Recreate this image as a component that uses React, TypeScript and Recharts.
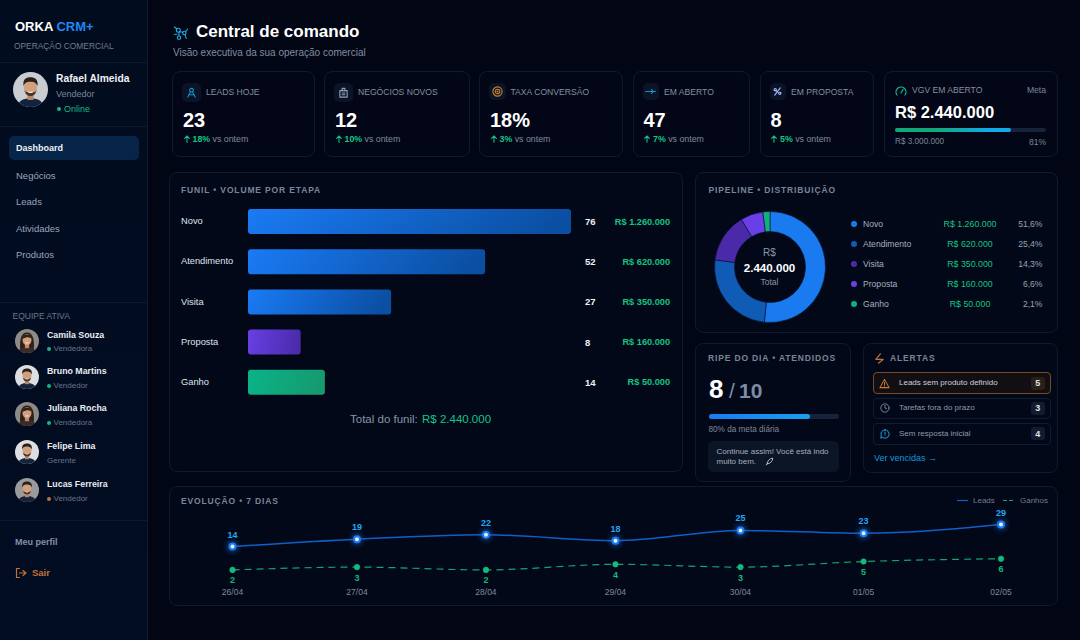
import React from "react";
import {
  BarChart,
  Bar,
  Cell,
  XAxis,
  YAxis,
  LabelList,
  PieChart,
  Pie,
  LineChart,
  Line,
} from "recharts";

const etapas = ["Novo", "Atendimento", "Visita", "Proposta", "Ganho"];
const quantidades = [76, 52, 27, 8, 14];
// comprimento das barras em % da maior (não é proporcional à quantidade)
const larguraFunil = [100, 73.4, 44.3, 16.3, 23.8];
const valoresEtapa = [1260000, 620000, 350000, 160000, 50000];
const valoresTexto = ["R$ 1.260.000", "R$ 620.000", "R$ 350.000", "R$ 160.000", "R$ 50.000"];
const percentuais = ["51,6%", "25,4%", "14,3%", "6,6%", "2,1%"];

const datas = ["26/04", "27/04", "28/04", "29/04", "30/04", "01/05", "02/05"];
// posição de cada dia no eixo, o espaçamento da imagem não é regular
const diasX = [0, 0.972, 1.979, 2.99, 3.966, 4.927, 6];
const leads = [14, 19, 22, 18, 25, 23, 29];
const ganhos = [2, 3, 2, 4, 3, 5, 6];

const kpis = [
  { x: 172, w: 143, lx: 34, label: "LEADS HOJE", value: "23", delta: "18%", icon: "people" },
  { x: 324, w: 146, lx: 34, label: "NEGÓCIOS NOVOS", value: "12", delta: "10%", icon: "building" },
  { x: 479, w: 144, lx: 31.5, label: "TAXA CONVERSÃO", value: "18%", delta: "3%", icon: "target" },
  { x: 632.5, w: 117, lx: 31.5, label: "EM ABERTO", value: "47", delta: "7%", icon: "arrow" },
  { x: 759.5, w: 114, lx: 31.5, label: "EM PROPOSTA", value: "8", delta: "5%", icon: "spark" },
];

const menu = [
  { label: "Negócios", y: 176 },
  { label: "Leads", y: 202 },
  { label: "Atividades", y: 229 },
  { label: "Produtos", y: 255 },
];

const equipe = [
  { nome: "Camila Souza", papel: "Vendedora", dot: "#12b981", y: 340.5, f: true },
  { nome: "Bruno Martins", papel: "Vendedor", dot: "#12b981", y: 377, f: false },
  { nome: "Juliana Rocha", papel: "Vendedora", dot: "#12b981", y: 414, f: true },
  { nome: "Felipe Lima", papel: "Gerente", dot: "", y: 452, f: false },
  { nome: "Lucas Ferreira", papel: "Vendedor", dot: "#c2713a", y: 490, f: false },
];

const alertas = [
  { label: "Leads sem produto definido", n: 5, y: 372, h: 22 },
  { label: "Tarefas fora do prazo", n: 3, y: 397.5, h: 21.5 },
  { label: "Sem resposta inicial", n: 4, y: 422.5, h: 22 },
];

const coresPie = ["#1a7bf0", "#0f5bb5", "#4a2aa8", "#6a3fe8", "#10b07f"];
const gradFunil = ["gBlue", "gBlue", "gBlue", "gPurple", "gGreen"];
const GREEN = "#13c584";
const FONT = "'Liberation Sans', Arial, sans-serif";

const funilData = etapas.map((etapa, i) => ({ etapa, largura: larguraFunil[i] }));
const pieData = etapas.map((etapa, i) => ({ etapa, valor: valoresEtapa[i] }));
const evolucaoData = datas.map((data, i) => ({ data, dia: diasX[i], leads: leads[i], ganhos: ganhos[i] }));

function T({ x, y, size = 9.5, color = "#fff", bold = false, anchor = "start", ls = 0, children }: any) {
  const tx = anchor === "end" ? "-100%" : anchor === "middle" ? "-50%" : "0";
  return (
    <div
      style={{
        position: "absolute",
        left: x,
        top: y,
        transform: `translate(${tx}, -50%)`,
        fontSize: size,
        color,
        fontWeight: bold ? 700 : 400,
        letterSpacing: ls,
        whiteSpace: "nowrap",
        lineHeight: 1.2,
      }}
    >
      {children}
    </div>
  );
}

function Box({ x, y, w, h, r = 8, bg = "#020818", border = "#0e1b2f" }: any) {
  return (
    <div
      style={{
        position: "absolute",
        left: x,
        top: y,
        width: w,
        height: h,
        borderRadius: r,
        background: bg,
        border: border ? `1px solid ${border}` : "none",
        boxSizing: "border-box",
      }}
    />
  );
}

function Avatar({ cx, cy, r, f, bg = "#c9ccd1" }: any) {
  return (
    <svg style={{ position: "absolute", left: cx - r, top: cy - r }} width={r * 2} height={r * 2} viewBox="0 0 40 40">
      <defs>
        <clipPath id={`av${cx}${cy}`}>
          <circle cx="20" cy="20" r="20" />
        </clipPath>
      </defs>
      <g clipPath={`url(#av${cx}${cy})`}>
        <rect width="40" height="40" fill={f ? "#8d8a88" : bg} />
        {f && <path d="M9 38 C7 18 10 6 20 6 C30 6 33 18 31 38 Z" fill="#2e211c" />}
        <path d="M5 40 C6 32 13 30 20 30 C27 30 34 32 35 40 Z" fill={f ? "#3a2b2b" : "#14233c"} />
        <rect x="16.5" y="24" width="7" height="8" fill="#b98768" />
        <ellipse cx="20" cy="18" rx="7.5" ry="9.5" fill="#d3a07e" />
        {!f && <path d="M12 16 C11 7 16 6 20 6 C25 6 29 8 28 16 C26 11 22 11 20 11 C17 11 14 11 12 16 Z" fill="#2b201b" />}
        {!f && <path d="M13 20 C14 30 26 30 27 20 C26 24 23 23 20 23 C17 23 14 24 13 20 Z" fill="#4a3428" />}
        {f && <path d="M12 17 C13 10 17 9 20 9 C24 9 27 10 28 17 C25 13 20 12 12 17 Z" fill="#2e211c" />}
        <path d="M16.5 22.5 C18 24.5 22 24.5 23.5 22.5 Z" fill="#f4efe9" />
      </g>
    </svg>
  );
}

function Ico({ x, y, size = 12, color = "#1aa5e0", sw = 1.2, children }: any) {
  return (
    <svg
      style={{ position: "absolute", left: x - size / 2, top: y - size / 2 }}
      width={size}
      height={size}
      viewBox="0 0 24 24"
      fill="none"
      stroke={color}
      strokeWidth={sw * 2}
      strokeLinecap="round"
      strokeLinejoin="round"
    >
      {children}
    </svg>
  );
}

function KpiIcon({ kind, x, y }: any) {
  if (kind === "people")
    return (
      <Ico x={x} y={y} size={11} color="#1592c8">
        <circle cx="12" cy="7" r="4" />
        <path d="M4 22 L9 12 M20 22 L15 12 M7 17 H17" />
      </Ico>
    );
  if (kind === "building")
    return (
      <Ico x={x} y={y} size={11} color="#8fa0b8">
        <rect x="4" y="8" width="16" height="14" />
        <path d="M9 8 V3 H15 V8 M9 13 H15 M9 17 H15" />
      </Ico>
    );
  if (kind === "target")
    return (
      <Ico x={x} y={y} size={11} color="#c98032">
        <circle cx="12" cy="12" r="10" />
        <circle cx="12" cy="12" r="5" />
        <circle cx="12" cy="12" r="1" />
      </Ico>
    );
  if (kind === "arrow")
    return (
      <Ico x={x} y={y} size={11} color="#1592c8">
        <path d="M1 12 H23 M14 8 L18 12 L14 16" />
      </Ico>
    );
  return (
    <Ico x={x} y={y} size={11} color="#a9b4ff">
      <path d="M6 20 L18 4 M5 9 L19 15" />
      <circle cx="7" cy="8" r="2.5" />
      <circle cx="17" cy="16" r="2.5" />
    </Ico>
  );
}

function CardTitle({ x, y, children }: any) {
  return (
    <T x={x} y={y} size={8.5} bold color="#7a8697" ls={0.85}>
      {children}
    </T>
  );
}

function funilLabel(props: any) {
  const { y, height, index } = props;
  const cy = y + height / 2;
  return (
    <g fontFamily={FONT} fontWeight={700} dominantBaseline="central">
      <text x={404} y={cy} fill="#eef1f5" fontSize={9.5} dominantBaseline="central">
        {quantidades[index]}
      </text>
      <text x={489} y={cy} fill={GREEN} fontSize={9.2} textAnchor="end" dominantBaseline="central">
        {valoresTexto[index]}
      </text>
    </g>
  );
}

function etapaTick(props: any) {
  return (
    <text x={0} y={props.y} fill="#dfe4ec" fontSize={9.3} fontFamily={FONT} dominantBaseline="central">
      {props.payload.value}
    </text>
  );
}

function FunilChart() {
  return (
    <div style={{ position: "absolute", left: 181, top: 201 }}>
      <BarChart
        width={489}
        height={201}
        data={funilData}
        layout="vertical"
        margin={{ top: 0, right: 99, bottom: 0, left: 0 }}
      >
        <defs>
          <linearGradient id="gBlue" x1="0" y1="0" x2="1" y2="0.1">
            <stop offset="0%" stopColor="#1a7bf5" />
            <stop offset="100%" stopColor="#0b4fa3" />
          </linearGradient>
          <linearGradient id="gPurple" x1="0" y1="0" x2="1" y2="0.1">
            <stop offset="0%" stopColor="#6a3fe6" />
            <stop offset="100%" stopColor="#4a2cab" />
          </linearGradient>
          <linearGradient id="gGreen" x1="0" y1="0" x2="1" y2="0.1">
            <stop offset="0%" stopColor="#0bb389" />
            <stop offset="100%" stopColor="#169a6e" />
          </linearGradient>
        </defs>
        <XAxis type="number" domain={[0, 100]} hide />
        <YAxis
          type="category"
          dataKey="etapa"
          width={67}
          axisLine={false}
          tickLine={false}
          tick={etapaTick}
          interval={0}
        />
        <Bar dataKey="largura" barSize={25} radius={3} isAnimationActive={false}>
          {funilData.map((d, i) => (
            <Cell key={d.etapa} fill={`url(#${gradFunil[i]})`} />
          ))}
          <LabelList content={funilLabel} />
        </Bar>
      </BarChart>
    </div>
  );
}

function PipelineChart() {
  return (
    <div style={{ position: "absolute", left: 699.5, top: 197 }}>
      <PieChart width={140} height={140} margin={{ top: 0, right: 0, bottom: 0, left: 0 }}>
        <Pie
          data={pieData}
          dataKey="valor"
          nameKey="etapa"
          cx={70}
          cy={70}
          innerRadius={35.5}
          outerRadius={55.5}
          startAngle={90}
          endAngle={-270}
          stroke="#06122a"
          strokeWidth={0.6}
          isAnimationActive={false}
        >
          {pieData.map((d, i) => (
            <Cell key={d.etapa} fill={coresPie[i]} />
          ))}
        </Pie>
      </PieChart>
    </div>
  );
}

function EvolucaoChart() {
  return (
    <div style={{ position: "absolute", left: 170, top: 490 }}>
      <LineChart
        width={890}
        height={112}
        data={evolucaoData}
        margin={{ top: 20, right: 59, bottom: 0, left: 62.5 }}
      >
        <XAxis
          type="number"
          dataKey="dia"
          domain={[0, 6]}
          ticks={diasX}
          interval={0}
          height={22}
          axisLine={false}
          tickLine={false}
          tickMargin={3}
          tick={{ fontSize: 8.5, fill: "#7e8a9a", fontFamily: FONT }}
          tickFormatter={(v: number) => datas[diasX.indexOf(v)]}
        />
        <YAxis yAxisId="leads" hide domain={[-8.8, 38.9]} />
        <YAxis yAxisId="ganhos" hide domain={[-1.6, 23.4]} />
        <Line
          yAxisId="ganhos"
          type="monotone"
          dataKey="ganhos"
          stroke="#11a66f"
          strokeWidth={1.2}
          strokeDasharray="7 5"
          dot={{ r: 2.8, fill: "#12bc80", stroke: "#12bc80", strokeWidth: 0.5, strokeDasharray: "" }}
          isAnimationActive={false}
        >
          <LabelList dataKey="ganhos" position="bottom" offset={7} fill="#13b97c" fontSize={9} fontWeight={700} fontFamily={FONT} />
        </Line>
        <Line
          yAxisId="leads"
          type="monotone"
          dataKey="leads"
          stroke="#0f5fc8"
          strokeWidth={1.5}
          dot={{
            r: 3,
            fill: "#e8eef8",
            stroke: "#1a7bf5",
            strokeWidth: 2,
            style: { filter: "drop-shadow(0 0 3px #1a7bf5)" },
          }}
          isAnimationActive={false}
        >
          <LabelList dataKey="leads" position="top" offset={9} fill="#1fa8f5" fontSize={9} fontWeight={700} fontFamily={FONT} />
        </Line>
      </LineChart>
    </div>
  );
}

function Sidebar() {
  return (
    <>
      <div
        style={{
          position: "absolute",
          left: 0,
          top: 0,
          width: 147,
          height: 640,
          background: "linear-gradient(180deg, #020c1f 0%, #020d22 100%)",
          borderRight: "1px solid #0c1a2e",
        }}
      />
      {[62, 125.5, 302, 519.5].map((y) => (
        <div key={y} style={{ position: "absolute", left: 0, top: y, width: 147, height: 1, background: "#0c1a2e" }} />
      ))}
      <T x={15} y={27} size={13} bold>
        ORKA <span style={{ color: "#1e88f5" }}>CRM+</span>
      </T>
      <T x={14} y={45.5} size={8.4} color="#6f7c90">
        OPERAÇÃO COMERCIAL
      </T>
      <Avatar cx={30.5} cy={89} r={17.5} f={false} />
      <T x={56} y={79} size={10.3} bold color="#eef1f5">
        Rafael Almeida
      </T>
      <T x={56} y={94} size={9} color="#7a8596">
        Vendedor
      </T>
      <div style={{ position: "absolute", left: 56.5, top: 106.5, width: 4, height: 4, borderRadius: 2, background: "#12b981" }} />
      <T x={64} y={108.5} size={9} color="#12b981">
        Online
      </T>
      <Box x={9} y={136} w={130} h={24} r={5} bg="#072449" border="" />
      <T x={16} y={148} size={9} bold color="#eef1f5">
        Dashboard
      </T>
      {menu.map((m) => (
        <T key={m.label} x={16} y={m.y} size={9.5} color="#98a5b8">
          {m.label}
        </T>
      ))}
      <T x={12.5} y={316} size={8.5} color="#6a778c">
        EQUIPE ATIVA
      </T>
      {equipe.map((p) => (
        <React.Fragment key={p.nome}>
          <Avatar cx={27} cy={p.y} r={12} f={p.f} bg={p.nome === "Lucas Ferreira" ? "#9a9a9c" : "#dcdee2"} />
          <T x={47} y={p.y - 6} size={8.8} bold color="#e8ecf2">
            {p.nome}
          </T>
          {p.dot && (
            <div style={{ position: "absolute", left: 46.5, top: p.y + 6.5, width: 4, height: 4, borderRadius: 2, background: p.dot }} />
          )}
          <T x={p.dot ? 53.5 : 47} y={p.y + 8.5} size={8} color="#66738a">
            {p.papel}
          </T>
        </React.Fragment>
      ))}
      <T x={15} y={542} size={9} bold color="#8290a6">
        Meu perfil
      </T>
      <Ico x={21} y={573} size={12} color="#c2713a" sw={1.2}>
        <path d="M9 3 H3 V21 H9 M9 12 H22 M16 7 L22 12 L16 17" />
      </Ico>
      <T x={32} y={573} size={9.5} bold color="#c2713a">
        Sair
      </T>
    </>
  );
}

function Kpis() {
  return (
    <>
      {kpis.map((k) => (
        <React.Fragment key={k.label}>
          <Box x={k.x} y={71} w={k.w} h={86} bg="#020616" />
          <Box x={k.x + 10} y={83} w={k.lx - 15} h={k.lx - 15} r={5} bg="#0a1426" border="" />
          <KpiIcon kind={k.icon} x={k.x + 10 + (k.lx - 15) / 2} y={83 + (k.lx - 15) / 2} />
          <T x={k.x + k.lx} y={91.5} size={8.6} color="#848f9f">
            {k.label}
          </T>
          <T x={k.x + 11} y={119.5} size={20} bold>
            {k.value}
          </T>
          <Ico x={k.x + 14.5} y={139} size={8} color={GREEN} sw={1.6}>
            <path d="M12 22 V3 M5 10 L12 3 L19 10" />
          </Ico>
          <T x={k.x + 20.5} y={139} size={8.8}>
            <span style={{ color: GREEN, fontWeight: 700 }}>{k.delta}</span>
            <span style={{ color: "#808c9c" }}> vs ontem</span>
          </T>
        </React.Fragment>
      ))}
      <Box x={883.5} y={71} w={174.5} h={86} bg="#020616" />
      <Ico x={901} y={90.5} size={12} color="#13b988">
        <path d="M4 20 A10 10 0 1 1 20 20 M12 16 L16 9" />
      </Ico>
      <T x={912} y={90} size={8.6} color="#848f9f">
        VGV EM ABERTO
      </T>
      <T x={1046} y={90} size={8.6} color="#7a8798" anchor="end">
        Meta
      </T>
      <T x={895} y={112.5} size={16.5} bold>
        R$ 2.440.000
      </T>
      <div style={{ position: "absolute", left: 895, top: 127.7, width: 151, height: 4.6, borderRadius: 3, background: "#16233a" }} />
      <div
        style={{
          position: "absolute",
          left: 895,
          top: 127.7,
          width: 116,
          height: 4.6,
          borderRadius: 3,
          background: "linear-gradient(90deg, #10a878 0%, #10a878 35%, #12a9e8 80%)",
        }}
      />
      <T x={895} y={142} size={8.2} color="#7a8798">
        R$ 3.000.000
      </T>
      <T x={1046} y={142} size={8.5} color="#7a8798" anchor="end">
        81%
      </T>
    </>
  );
}

function RipeAlertas() {
  return (
    <>
      <Box x={695} y={343} w={156} h={139} />
      <CardTitle x={708} y={358}>RIPE DO DIA • ATENDIDOS</CardTitle>
      <T x={709} y={390} size={26} bold>
        8
      </T>
      <T x={729} y={391} size={21} color="#7d8ca6">
        /
      </T>
      <T x={739} y={391} size={21} bold color="#7d8ca6">
        10
      </T>
      <div style={{ position: "absolute", left: 708.5, top: 414, width: 130, height: 4.6, borderRadius: 3, background: "#16233a" }} />
      <div
        style={{
          position: "absolute",
          left: 708.5,
          top: 414,
          width: 101,
          height: 4.6,
          borderRadius: 3,
          background: "linear-gradient(90deg, #1a7bf0, #19a0f0)",
        }}
      />
      <T x={708.5} y={430} size={8.2} color="#7d8898">
        80% da meta diária
      </T>
      <Box x={707.5} y={441} w={131.5} h={31} r={5} bg="#0b1526" border="" />
      <T x={716.5} y={451.5} size={8} color="#a4afbe">
        Continue assim! Você está indo
      </T>
      <T x={716.5} y={461.5} size={8} color="#a4afbe">
        muito bem.
      </T>
      <Ico x={769} y={461.5} size={9} color="#b8c0d0" sw={1.2}>
        <path d="M6 18 C6 10 12 4 21 3 C20 12 14 18 6 18 Z M3 21 L7 17" />
      </Ico>

      <Box x={863} y={343} w={195} h={129.5} />
      <Ico x={879.5} y={358} size={11} color="#c2713a" sw={1.3}>
        <path d="M14 2 L4 14 H20 L10 22" />
      </Ico>
      <CardTitle x={890} y={358}>ALERTAS</CardTitle>
      {alertas.map((a, i) => (
        <React.Fragment key={a.label}>
          <Box
            x={872.5}
            y={a.y}
            w={178.5}
            h={a.h}
            r={4}
            bg={i === 0 ? "#120f14" : "#020818"}
            border={i === 0 ? "#7a4a20" : "#0f1c30"}
          />
          <T x={899} y={a.y + a.h / 2} size={8} color={i === 0 ? "#ccd2dc" : "#8f9aab"}>
            {a.label}
          </T>
          <Box x={1031} y={a.y + a.h / 2 - 6.5} w={13.5} h={13} r={3} bg={i === 0 ? "#2a2018" : "#111c30"} border="" />
          <T x={1037.7} y={a.y + a.h / 2} size={9} bold anchor="middle" color="#dfe4ec">
            {a.n}
          </T>
        </React.Fragment>
      ))}
      <Ico x={884.5} y={383} size={11} color="#c77a35" sw={1.1}>
        <path d="M12 3 L22 21 H2 Z M12 10 V15 M12 18 V18.2" />
      </Ico>
      <Ico x={884.5} y={408} size={10} color="#8090a5" sw={1.1}>
        <circle cx="12" cy="12" r="10" />
        <path d="M12 6 V12 L16 14" />
      </Ico>
      <Ico x={884.5} y={433.5} size={10} color="#1aa5e0" sw={1.2}>
        <path d="M12 2 A10 10 0 1 1 6 20 L2 22 L3 16 A10 10 0 0 1 12 2 Z M12 7 V12 M12 15 V15.2" />
      </Ico>
      <T x={874} y={458} size={9} color="#1596d8">
        Ver vencidas →
      </T>
    </>
  );
}

export default function App() {
  return (
    <div
      style={{
        position: "absolute",
        left: 0,
        top: 0,
        width: 1080,
        height: 640,
        overflow: "hidden",
        background: "#020513",
        fontFamily: FONT,
      }}
    >
      <Sidebar />

      <Ico x={180.5} y={32.5} size={16} color="#1fb0e8" sw={0.8}>
        <circle cx="8" cy="8" r="3" />
        <circle cx="17" cy="12" r="2.5" />
        <circle cx="9" cy="19" r="2.5" />
        <path d="M2 3 L6 6 M22 6 L19 10 M10 10 L15 11 M9 11 V16 M2 14 H6 M20 20 L18 15" />
      </Ico>
      <T x={196} y={32} size={17} bold>
        Central de comando
      </T>
      <T x={173} y={53} size={10} color="#7f8ea3">
        Visão executiva da sua operação comercial
      </T>

      <Kpis />

      <Box x={169} y={172} w={514} h={300} />
      <CardTitle x={181} y={190}>FUNIL • VOLUME POR ETAPA</CardTitle>
      <FunilChart />
      <T x={350} y={420} size={11.5} color="#8794a6">
        Total do funil:
      </T>
      <T x={422} y={420} size={11.5} color={GREEN}>
        R$ 2.440.000
      </T>

      <Box x={695} y={172} w={363} h={161} />
      <CardTitle x={708.5} y={190}>PIPELINE • DISTRIBUIÇÃO</CardTitle>
      <PipelineChart />
      <T x={769.5} y={253} size={10} color="#8a96a8" anchor="middle">
        R$
      </T>
      <T x={769.5} y={267.5} size={11.6} bold anchor="middle">
        2.440.000
      </T>
      <T x={769.5} y={282} size={8.5} color="#8a96a8" anchor="middle">
        Total
      </T>
      {etapas.map((e, i) => {
        const y = 224 + i * 20.1;
        return (
          <React.Fragment key={e}>
            <div style={{ position: "absolute", left: 851, top: y - 3, width: 6, height: 6, borderRadius: 3, background: coresPie[i] }} />
            <T x={863} y={y} size={8.6} color="#a4afbe">
              {e}
            </T>
            <T x={970} y={y} size={8.8} color={GREEN} anchor="middle">
              {valoresTexto[i]}
            </T>
            <T x={1042.5} y={y} size={8.6} color="#97a3b3" anchor="end">
              {percentuais[i]}
            </T>
          </React.Fragment>
        );
      })}

      <RipeAlertas />

      <Box x={169} y={486} w={889} h={120} />
      <CardTitle x={181} y={500.5}>EVOLUÇÃO • 7 DIAS</CardTitle>
      <svg style={{ position: "absolute", left: 956, top: 499 }} width={60} height={3}>
        <line x1="1" y1="1.5" x2="12" y2="1.5" stroke="#0f5fc8" strokeWidth="1.2" />
        <line x1="47" y1="1.5" x2="59" y2="1.5" stroke="#11a66f" strokeWidth="1.2" strokeDasharray="4 2" />
      </svg>
      <T x={973} y={500.5} size={8} color="#6f7c8e">
        Leads
      </T>
      <T x={1020} y={500.5} size={8} color="#6f7c8e">
        Ganhos
      </T>
      <EvolucaoChart />
    </div>
  );
}
